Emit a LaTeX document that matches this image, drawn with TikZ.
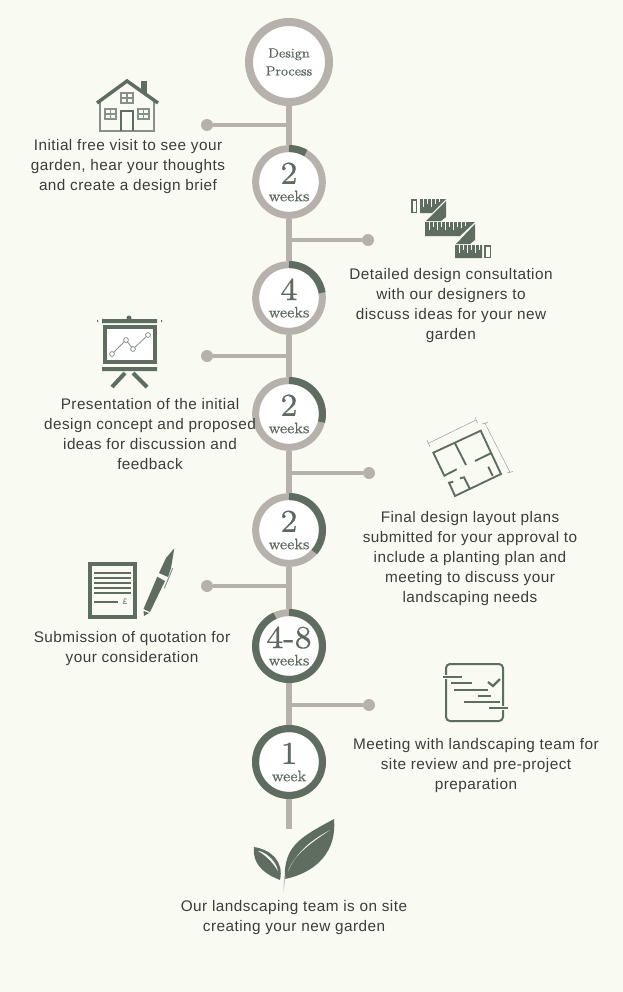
\documentclass[tikz,border=0pt]{standalone}
\usepackage{fontspec}
\usepackage{tikz}
\newfontfamily\notefont[LetterSpace=3]{Liberation Sans}
\newfontfamily\stepfont[FakeBold=.4]{lmroman8-regular.otf}
\definecolor{pagebg}{HTML}{F9FAF2}
\definecolor{ringgrey}{HTML}{B6B2AB}
\definecolor{leafgreen}{HTML}{5F6D60}
\definecolor{labelgrey}{HTML}{5E6A60}
\definecolor{notegrey}{HTML}{3C3C3C}
\newcommand{\steplabel}[2]{{\stepfont\fontsize{24}{24}\selectfont #1}\\[1pt]{\stepfont\fontsize{11.5}{11.5}\selectfont #2}}
\tikzset{
    stepring/.style={circle,draw=ringgrey,line width=5.25pt,fill=white,minimum size=50pt,inner sep=0pt,
        align=center,text=labelgrey},
    startring/.style={stepring,line width=6pt,minimum size=60pt},
    steptext/.style={stepring,draw=none,fill=none},
    progress/.style={draw=leafgreen,line width=5.25pt},
    spine/.style={draw=ringgrey,line width=4.5pt},
    branch/.style={draw=ringgrey,line width=3.4pt},
    branchdot/.style={circle,fill=ringgrey,minimum size=9pt,inner sep=0pt,outer sep=0pt},
    note/.style={font=\notefont\fontsize{11.5}{15}\selectfont,text=notegrey,align=center,inner sep=0pt},
    iconline/.style={draw=leafgreen,line width=1.5pt},
    thinline/.style={draw=leafgreen!75,line width=.4pt},
    rulertick/.style={draw=pagebg,line width=.7pt}
}
\begin{document}
\begin{tikzpicture}[x=.75pt,y=.75pt]
    \useasboundingbox (0,0) rectangle (623,-992);
    \fill[pagebg] (0,0) rectangle (623,-992);

    \node[startring] (start) at (289,-62) {};
    \node[stepring] (step1) at (289,-182) {};
    \node[stepring] (step2) at (289,-298) {};
    \node[stepring] (step3) at (289,-414) {};
    \node[stepring] (step4) at (289,-530) {};
    \node[stepring] (step5) at (289,-646) {};
    \node[stepring] (step6) at (289,-762) {};
    \coordinate (stem) at (289,-829);

    \node[branchdot] (dot1) at (207,-125) {};
    \node[branchdot] (dot2) at (368,-240) {};
    \node[branchdot] (dot3) at (207,-356) {};
    \node[branchdot] (dot4) at (369,-473) {};
    \node[branchdot] (dot5) at (207,-586) {};
    \node[branchdot] (dot6) at (369,-705) {};

    \path[spine]
        (start) -- (step1) (step1) -- (step2) (step2) -- (step3)
        (step3) -- (step4) (step4) -- (step5) (step5) -- (step6) (step6) -- (stem);
    \foreach \n in {1,...,6}
        \path[branch]
            (dot\n) -- (dot\n -| start);

    \draw[progress]
        (step1.center) ++(90:33.5) arc[start angle=90,end angle=60,radius=33.5];
    \draw[progress]
        (step2.center) ++(90:33.5) arc[start angle=90,end angle=9,radius=33.5];
    \draw[progress]
        (step3.center) ++(90:33.5) arc[start angle=90,end angle=-14,radius=33.5];
    \draw[progress]
        (step4.center) ++(90:33.5) arc[start angle=90,end angle=-41,radius=33.5];
    \draw[progress]
        (step5.center) ++(90:33.5) arc[start angle=90,end angle=-245,radius=33.5];
    \draw[progress]
        (step6.center) circle[radius=33.5];

    \node[text=labelgrey,align=center,font=\stepfont\fontsize{10}{13.5}\selectfont] (startlabel) at (start.center) {Design\\Process};
    \node[steptext] (label1) at (step1.center) {\steplabel{2}{weeks}};
    \node[steptext] (label2) at (step2.center) {\steplabel{4}{weeks}};
    \node[steptext] (label3) at (step3.center) {\steplabel{2}{weeks}};
    \node[steptext] (label4) at (step4.center) {\steplabel{2}{weeks}};
    \node[steptext] (label5) at (step5.center) {\steplabel{4-8}{weeks}};
    \node[steptext] (label6) at (step6.center) {\steplabel{1}{week}};

    \node[note] (note1) at (128,-167) {Initial free visit to see your\\garden, hear your thoughts\\and create a design brief};
    \node[note] (note2) at (451,-306) {Detailed design consultation\\with our designers to\\discuss ideas for your new\\garden};
    \node[note] (note3) at (150,-434) {Presentation of the initial\\design concept and proposed\\ideas for discussion and\\feedback};
    \node[note] (note4) at (470,-559) {Final design layout plans\\submitted for your approval to\\include a planting plan and\\meeting to discuss your\\landscaping needs};
    \node[note] (note5) at (132,-649) {Submission of quotation for\\your consideration};
    \node[note] (note6) at (476,-766) {Meeting with landscaping team for\\site review and pre-project\\preparation};
    \node[note] (note7) at (294,-918) {Our landscaping team is on site\\creating your new garden};

    % house
    \draw[thinline,line width=1.2pt]
        (100,-102) -- (100,-131) -- (154,-131) -- (154,-102);
    \fill[leafgreen]
        (141,-81) rectangle (147,-93);
    \draw[iconline,line width=2.6pt]
        (97,-103) -- (127,-81) -- (158,-103);
    \draw[thinline,line width=.8pt]
        (121,-93) rectangle (133,-103) (127,-93) -- (127,-103) (121,-98) -- (133,-98)
        (105,-109) rectangle (116,-119) (110.5,-109) -- (110.5,-119) (105,-114) -- (116,-114)
        (138,-109) rectangle (149,-119) (143.5,-109) -- (143.5,-119) (138,-114) -- (149,-114);
    \draw[iconline,line width=1pt]
        (121,-131) -- (121,-111) -- (133,-111) -- (133,-131);

    % rulers
    \fill[leafgreen]
        (420,-199) -- (446,-199) -- (432,-213) -- (420,-213) -- cycle
        (446,-201) -- (446,-217) -- (441,-221) -- (426,-221) -- cycle
        (425,-222) -- (475,-222) -- (460,-236) -- (425,-236) -- cycle
        (475,-224) -- (475,-240) -- (470,-244) -- (456,-244) -- cycle
        (455,-245) rectangle (482,-258);
    \draw[iconline,line width=1.3pt]
        (411.7,-199.7) rectangle (416.5,-212.5)
        (484.7,-245.7) rectangle (490.5,-257.5);
    \foreach \tx/\ty/\tl in {423/199/8,427/199/5,431/199/8,435/199/5,439/199/3,
        429/222/8,433/222/5,437/222/8,441/222/5,445/222/8,449/222/5,453/222/8,457/222/5,461/222/6,465/222/4,
        459/245/8,463/245/5,467/245/8,471/245/5,475/245/8,479/245/5}
        \draw[rulertick]
            (\tx,-\ty) -- ++(0,-\tl);

    % presentation board
    \fill[leafgreen]
        (102,-319) rectangle (157,-323)
        (129,-318) circle[radius=2.5]
        (102,-367) rectangle (157,-371)
        (98,-320) rectangle (97,-322)
        (161,-320) rectangle (162,-322);
    \draw[iconline,line width=2.3pt,fill=white]
        (105,-327) rectangle (155,-362);
    \draw[iconline,line width=3pt]
        (125,-373) -- (112,-387)
        (133,-373) -- (147,-387);
    \draw[thinline,line width=.6pt]
        (112,-354) -- (126,-340) -- (133,-349) -- (148,-335);
    \draw[thinline,line width=.6pt,fill=white]
        (112,-354) circle[radius=2.4] (126,-340) circle[radius=2.4]
        (133,-349) circle[radius=2.4] (148,-335) circle[radius=2.4];

    % floor plan
    \draw[iconline,line width=1.4pt]
        (453.3,-481.7) -- (449,-482.7) -- (455,-496) -- (501,-474) -- (480.7,-430.7) -- (433.3,-452.7) -- (444.3,-475.7) -- (456.7,-469.3)
        (455,-443.3) -- (466,-465)
        (475,-461) -- (490.7,-453.3)
        (488.3,-466.7) -- (492.7,-476)
        (460,-478.3) -- (464,-477.3) -- (470,-489.3);
    \draw[thinline,line width=.3pt]
        (428.3,-443.3) -- (476,-420)
        (485,-423.3) -- (510,-472.3)
        (427,-440) -- (430,-447)
        (475,-417) -- (477.5,-423)
        (482,-424) -- (488,-422.5)
        (507,-473) -- (513,-471.5);

    % quotation and pen
    \draw[iconline,line width=2.3pt]
        (90,-564) rectangle (135,-617);
    \foreach \ly in {573,578,583,588,593}
        \draw[iconline,line width=2.1pt]
            (94,-\ly) -- (131,-\ly);
    \draw[iconline,line width=2pt]
        (94,-602) -- (118,-602);
    \node[text=labelgrey,font=\notefont\fontsize{6}{6}\selectfont,inner sep=0pt] (pound) at (125,-602) {£};
    \fill[leafgreen]
        (143.5,-609) -- (150,-612) -- (165,-581) -- (157.3,-576.7) -- cycle
        (159,-573) -- (168,-577) -- (171,-568) -- (174.3,-548.3) -- (166,-558) -- cycle
        (143.5,-611) -- (149,-613) -- (144,-616) -- cycle;
    \draw[thinline,line width=.7pt]
        (172.7,-568.3) -- (164.3,-588.3);

    % review sheet
    \draw[iconline,line width=1.5pt,rounded corners=3pt]
        (446,-664) rectangle (503,-721);
    \draw[pagebg,line width=3.5pt]
        (443,-677) -- (462,-677)
        (489,-708) -- (508,-708);
    \foreach \la/\lb/\ly in {443/462/677,451/472/683,454/488/690,478/491/696,464/500/702,489/508/708}
        \draw[iconline]
            (\la,-\ly) -- (\lb,-\ly);
    \draw[iconline,line width=1.7pt]
        (488,-682) -- (493,-686) -- (500,-679);

    % leaves
    \fill[leafgreen]
        (285,-879) .. controls (283,-845) and (303,-836) .. (334,-819)
        .. controls (337,-850) and (318,-872) .. (285,-879) -- cycle;
    \fill[pagebg]
        (288,-871) .. controls (298,-850) and (312,-840) .. (330,-830)
        .. controls (314,-841) and (295,-853) .. (288,-871) -- cycle;
    \fill[leafgreen]
        (280,-880) .. controls (284,-862) and (272,-850) .. (254,-847)
        .. controls (252,-868) and (270,-876) .. (280,-880) -- cycle;
    \fill[pagebg]
        (278,-871) .. controls (272,-861) and (265,-855) .. (258,-851)
        .. controls (264,-851) and (276,-860) .. (278,-871) -- cycle;
    \fill[leafgreen!45]
        (284,-876) -- (285.5,-876) -- (283.5,-893) -- cycle;
\end{tikzpicture}
\end{document}
